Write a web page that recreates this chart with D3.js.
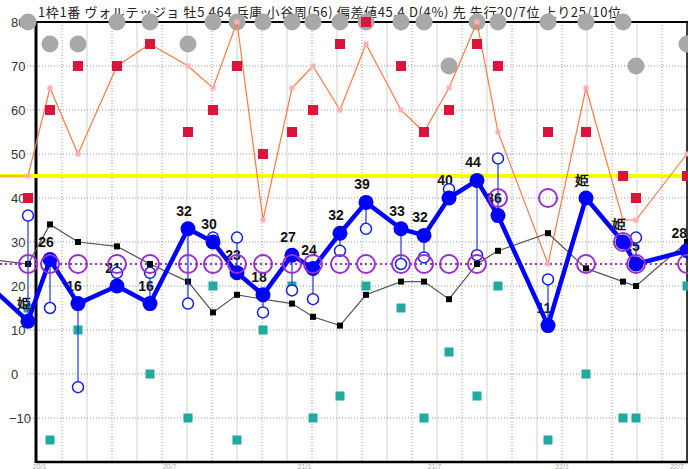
<!DOCTYPE html>
<html>
<head>
<meta charset="utf-8" />
<script src="https://cdn.jsdelivr.net/npm/d3@7"></script>
<style>
  body { margin: 0; background: #fff; }
  svg { display: block; }
  .ylab { font: 13px "Liberation Sans", Arial, sans-serif; fill: #333; }
  .xlab { font: 7px "Liberation Sans", Arial, sans-serif; fill: #aaa; }
  .title { font: 13px "Noto Sans CJK JP", sans-serif; fill: #222; }
  .val { font: bold 14px "Liberation Sans", Arial, sans-serif; fill: #111; }
</style>
</head>
<body>
<script>
// race positions along the time axis (one grid column = 1)
var races = [-1.8, -0.36, 0.52, 1.64, 3.2, 4.52, 6.04, 7.04, 8.0, 9.04, 10.2, 11.04,
             12.12, 13.16, 14.56, 15.48, 16.48, 17.6, 18.44, 20.44, 21.96, 23.44, 23.96, 26.0];

// main index (thick blue line) and its labels
var mainIdx = [19.5, 12, 26, 16, 20, 16, 33, 30, 23, 18, 27, 24, 32, 39, 33, 31.5, 40, 44, 36, 11, 40, 30, 25, 28];
var mainLab = ["", "姫", "26", "16", "21", "16", "32", "30", "23", "18", "27", "24", "32", "39", "33", "32", "40", "44", "36", "11", "姫", "姫", "25", "28"];
// open blue circles tied to the main points
var subIdx = [null, 36, 15, -3, 23, 23, 16, 31, 31, 14, 19, 17, 28, 33, 25, 26.5, 42, 27, 49, 21.5, null, null, 31, null];
// thin black line
var blackIdx = [26, 25, 34, 30, 29, 25, 21, 14, 18, 17, 16, 13, 11, 18, 21, 21, 17, 25, 28, 32, 24, 21, 20, 30];
// thin orange line with pink markers
var orangeIdx = [45, 45, 65, 50, 70, 75, 70, 65, 80, 35, 65, 70, 60, 75, 60, 55, 65, 80, 55, 25, 65, 35, 35, 50];
// red squares
var redIdx = [null, 40, 60, 70, 70, 75, 55, 60, 70, 50, 55, 60, 75, 80, 70, 55, 60, 75, 70, 55, 55, 45, 40, 45];
// teal squares
var tealIdx = [null, 15, -15, 10, 20, 0, -10, 20, -15, 10, 20, -10, -5, 20, 15, -10, 5, -5, 20, -15, 0, -10, -10, 20];
// gray circles
var grayIdx = [null, 80, 75, 75, 80, 80, 75, 80, 80, 80, 80, 80, 80, 80, 80, 80, 70, 80, 80, 80, 80, 80, 70, 75];
// purple rings
var purpleIdx = [null, 25, 25, 25, 25, 25, 25, 25, 25, 25, 25, 25, 25, 25, 25, 25, 25, 25, 40, 40, 25, 30, 25, 25];

var yTicks = [80, 70, 60, 50, 40, 30, 20, 10, 0, -10];
var baseLine = 45, refLine = 25;
var xTickPos = [0.1, 5.3, 10.7, 15.9, 21.0, 25.6];
var xTickLab = ["20/1", "20/7", "21/1", "21/7", "22/1", "22/7"];
var titleText = "1枠1番 ヴォルテッジョ 牡5 464 兵庫 小谷周(56) 偏差値45.4 D(4%) 先 先行20/7位 上り25/10位";

var W = 688, H = 469;
var x = d3.scaleLinear().domain([0, 26]).range([37, 687]);
var y = d3.scaleLinear().domain([-20, 80]).range([462, 22]);

var svg = d3.select("body").append("svg").attr("width", W).attr("height", H);

// grid
var cols = d3.range(1, 27);
svg.selectAll(".vg").data(cols).enter().append("line")
    .attr("x1", d => x(d)).attr("x2", d => x(d))
    .attr("y1", y(80)).attr("y2", y(-20))
    .attr("stroke", d => d % 2 ? "#999" : "#d0d0d0")
    .attr("stroke-width", 1)
    .attr("stroke-dasharray", d => d % 2 ? "1,2" : null);
svg.selectAll(".hg").data(yTicks.slice(1)).enter().append("line")
    .attr("x1", 27).attr("x2", x(26))
    .attr("y1", d => y(d)).attr("y2", d => y(d))
    .attr("stroke", "#999").attr("stroke-dasharray", "1,2");

// y labels
svg.selectAll(".ylab").data(yTicks).enter().append("text")
    .attr("class", "ylab")
    .attr("x", d => d < 0 ? 9 : 11).attr("y", d => y(d) + 5)
    .text(d => d < 0 ? "\u2212" + (-d) : d);

// x labels (squeezed under the bottom edge)
svg.selectAll(".xlab").data(xTickPos).enter().append("text")
    .attr("class", "xlab")
    .attr("x", d => x(d)).attr("y", 468.5)
    .attr("text-anchor", "middle")
    .text((d, i) => xTickLab[i]);

// frame
svg.append("line").attr("x1", 36).attr("x2", 688).attr("y1", 22).attr("y2", 22).attr("stroke", "#000").attr("stroke-width", 2);
svg.append("line").attr("x1", 36).attr("x2", 688).attr("y1", 462).attr("y2", 462).attr("stroke", "#000").attr("stroke-width", 2.5);
svg.append("line").attr("x1", 36).attr("x2", 36).attr("y1", 21).attr("y2", 463).attr("stroke", "#000").attr("stroke-width", 3);
svg.append("line").attr("x1", 687).attr("x2", 687).attr("y1", 21).attr("y2", 463).attr("stroke", "#000").attr("stroke-width", 1.5);

// title
svg.append("text").attr("class", "title").attr("x", 38).attr("y", 17)
    .attr("textLength", 583).attr("lengthAdjust", "spacing")
    .text(titleText);

// reference lines
svg.append("line").attr("x1", 0).attr("x2", W).attr("y1", y(baseLine)).attr("y2", y(baseLine))
    .attr("stroke", "#ffff00").attr("stroke-width", 4);
svg.append("line").attr("x1", 0).attr("x2", W).attr("y1", y(refLine)).attr("y2", y(refLine))
    .attr("stroke", "#9a2fd0").attr("stroke-width", 2).attr("stroke-dasharray", "2,3");

function pts(arr) {
    return races.map((r, i) => ({ r: r, v: arr[i], i: i })).filter(d => d.v != null);
}

// gray circles
svg.selectAll(".gc").data(pts(grayIdx)).enter().append("circle")
    .attr("cx", d => x(d.r)).attr("cy", d => y(d.v)).attr("r", 8.5)
    .attr("fill", "#a8a8a8");

// orange line
var line = d3.line().x(d => x(d.r)).y(d => y(d.v));
svg.append("path").datum(pts(orangeIdx)).attr("d", line)
    .attr("fill", "none").attr("stroke", "#ff7a45").attr("stroke-width", 1.2);
svg.selectAll(".ps").data(pts(orangeIdx)).enter().append("rect")
    .attr("x", d => x(d.r) - 2.5).attr("y", d => y(d.v) - 2.5)
    .attr("width", 5).attr("height", 5).attr("fill", "#ffb0b8");

// red squares
svg.selectAll(".rs").data(pts(redIdx)).enter().append("rect")
    .attr("x", d => x(d.r) - 5).attr("y", d => y(d.v) - 5)
    .attr("width", 10).attr("height", 10).attr("fill", "#dc143c");

// teal squares
svg.selectAll(".ts").data(pts(tealIdx)).enter().append("rect")
    .attr("x", d => x(d.r) - 4.5).attr("y", d => y(d.v) - 4.5)
    .attr("width", 9).attr("height", 9).attr("fill", "#20aaa0");

// black line
svg.append("path").datum(pts(blackIdx)).attr("d", line)
    .attr("fill", "none").attr("stroke", "#555").attr("stroke-width", 1.2);
svg.selectAll(".bs").data(pts(blackIdx)).enter().append("rect")
    .attr("x", d => x(d.r) - 3).attr("y", d => y(d.v) - 3)
    .attr("width", 6).attr("height", 6).attr("fill", "#000");

// labels (under the blue line, as in the original); keep the last one inside
svg.selectAll(".val").data(pts(mainIdx).filter(d => mainLab[d.i])).enter().append("text")
    .attr("class", "val")
    .attr("x", d => x(d.r) > 680 ? W - 1 : x(d.r) - 4).attr("y", d => y(d.v) - 13)
    .attr("text-anchor", d => x(d.r) > 680 ? "end" : "middle")
    .text(d => mainLab[d.i]);

// stems from main point to open circle
var subs = pts(subIdx);
svg.selectAll(".stem").data(subs).enter().append("line")
    .attr("x1", d => x(d.r)).attr("x2", d => x(d.r))
    .attr("y1", d => y(mainIdx[d.i])).attr("y2", d => y(d.v))
    .attr("stroke", "#2233ee").attr("stroke-width", 1.2);
svg.selectAll(".oc").data(subs).enter().append("circle")
    .attr("cx", d => x(d.r)).attr("cy", d => y(d.v)).attr("r", 5.5)
    .attr("fill", "#fff").attr("stroke", "#1122ee").attr("stroke-width", 1.5);

// main thick line
svg.append("path").datum(pts(mainIdx)).attr("d", line)
    .attr("fill", "none").attr("stroke", "#0000ff").attr("stroke-width", 4.5)
    .attr("stroke-linejoin", "round");
svg.selectAll(".mc").data(pts(mainIdx)).enter().append("circle")
    .attr("cx", d => x(d.r)).attr("cy", d => y(d.v)).attr("r", 7.5)
    .attr("fill", "#0000ff");

// purple rings
svg.selectAll(".pr").data(pts(purpleIdx)).enter().append("circle")
    .attr("cx", d => x(d.r)).attr("cy", d => y(d.v)).attr("r", 9)
    .attr("fill", "none").attr("stroke", "#9a2fd0").attr("stroke-width", 2);
</script>
</body>
</html>
